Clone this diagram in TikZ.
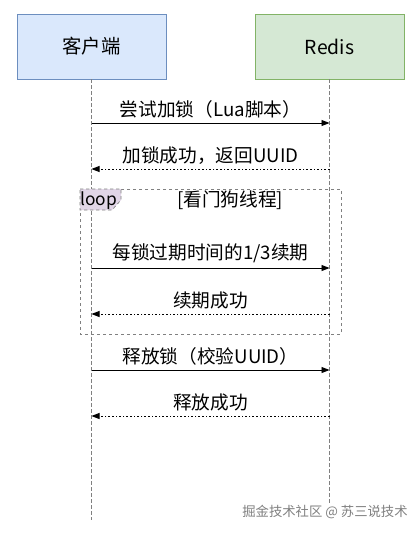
\documentclass[tikz,border=0pt]{standalone}
\usepackage{fontspec}
\setmainfont{Noto Sans CJK SC}
\usetikzlibrary{arrows.meta}
\definecolor{clientfill}{HTML}{DAE8FC}
\definecolor{clientline}{HTML}{6C8EBF}
\definecolor{redisfill}{HTML}{D5E8D4}
\definecolor{redisline}{HTML}{82B366}
\definecolor{loopfill}{HTML}{E1D5E7}
\tikzset{
	actor/.style={rectangle, minimum width=111.75pt, minimum height=48.75pt, font=\fontsize{14.5}{16}\selectfont},
	lifeline/.style={gray, dash pattern=on 2.5pt off 2pt, line width=0.5pt},
	call/.style={-{Triangle[length=6pt,width=4.5pt]}, line width=0.7pt},
	reply/.style={-{Triangle[length=6pt,width=4.5pt]}, line width=0.7pt, dash pattern=on 1.2pt off 1.5pt},
	msg/.style={font=\fontsize{14}{16}\selectfont, above=0pt}
}
\begin{document}
\begin{tikzpicture}[x=0.75pt, y=-0.75pt]
			\useasboundingbox[fill=white] (0,0) rectangle (420,533);
			\node[actor, fill=clientfill, draw=clientline] (client) at (91.5,46.5) {客户端};
			\node[actor, fill=redisfill, draw=redisline] (redis) at (329.5,46.5) {Redis};
			\coordinate (clientend) at (91.5,520);
			\coordinate (redisend) at (329.5,505);
			\draw[lifeline] (client.south) -- (clientend);
			\draw[lifeline] (redis.south) -- (redisend);
			\foreach \i/\y in {1/123, 2/169, 3/268, 4/314, 5/370, 6/416} {
				\coordinate (c\i) at (91.5,\y);
				\coordinate (r\i) at (329.5,\y);
			}
			\draw[gray, dash pattern=on 2.5pt off 2pt, line width=0.5pt] (80,189) rectangle (341,334);
			\draw[gray, dash pattern=on 2.5pt off 2pt, line width=0.5pt, fill=loopfill] (80,189) -- (121,189) -- (121,200) -- (112,210) -- (80,210) -- cycle;
			\node[font=\fontsize{13}{15}\selectfont, anchor=west, inner sep=0pt] (loop) at (80,201) {loop};
			\node[font=\fontsize{14}{16}\selectfont] (guard) at (230,200) {[看门狗线程]};
			\draw[call] (c1) -- (r1) node[msg, midway] {尝试加锁（Lua脚本）};
			\draw[reply] (r2) -- (c2) node[msg, midway] {加锁成功，返回UUID};
			\draw[call] (c3) -- (r3) node[msg, midway] {每锁过期时间的1/3续期};
			\draw[reply] (r4) -- (c4) node[msg, midway] {续期成功};
			\draw[call] (c5) -- (r5) node[msg, midway] {释放锁（校验UUID）};
			\draw[reply] (r6) -- (c6) node[msg, midway] {释放成功};
			\node[gray, font=\fontsize{10}{12}\selectfont] (mark) at (325,512) {掘金技术社区 @ 苏三说技术};
		\end{tikzpicture}
\end{document}
